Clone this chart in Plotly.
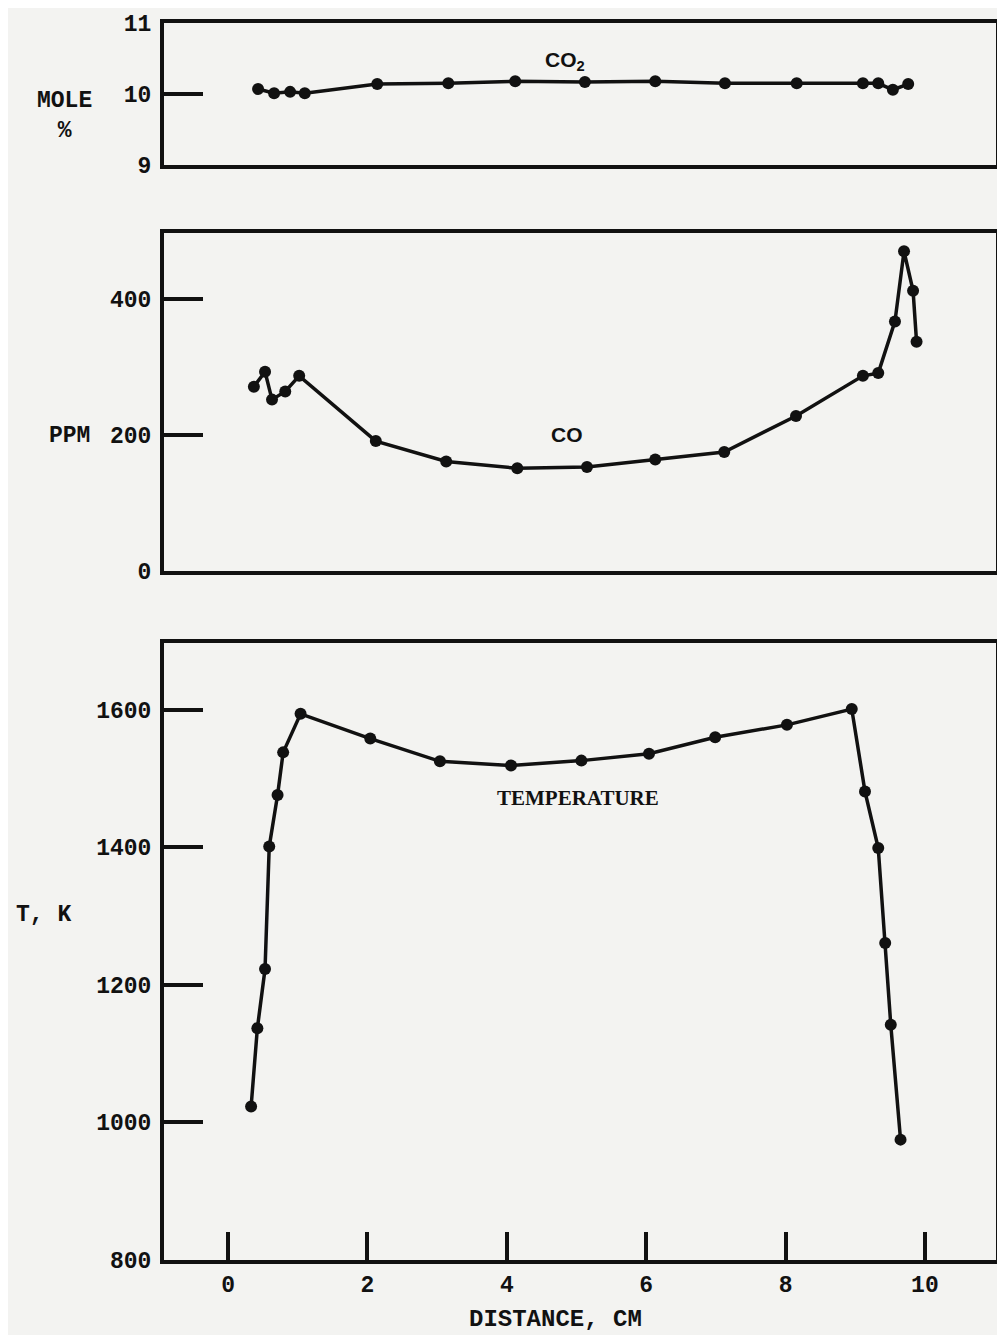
import plotly.graph_objects as go

# ---- data ----
co2_x = [0.43, 0.66, 0.89, 1.10, 2.14, 3.16, 4.12, 5.12, 6.13, 7.13, 8.16, 9.11, 9.33, 9.54, 9.76]
co2_y = [10.07, 10.01, 10.03, 10.01, 10.14, 10.15, 10.18, 10.17, 10.18, 10.15, 10.15, 10.15, 10.15, 10.06, 10.14]

co_x = [0.37, 0.53, 0.63, 0.82, 1.02, 2.12, 3.13, 4.15, 5.15, 6.13, 7.12, 8.15, 9.11, 9.33, 9.57, 9.70, 9.83, 9.88]
co_y = [271, 293, 252, 264, 287, 191, 161, 151, 153, 164, 175, 228, 287, 291, 367, 470, 412, 337]

t_x = [0.33, 0.42, 0.53, 0.59, 0.71, 0.79, 1.04, 2.04, 3.04, 4.06, 5.07, 6.04, 6.99, 8.02, 8.95, 9.14, 9.33, 9.43, 9.51, 9.65]
t_y = [1023, 1137, 1223, 1401, 1476, 1538, 1594, 1558, 1525, 1519, 1526, 1536, 1560, 1578, 1601, 1481, 1399, 1261, 1142, 975]

x_ticks = [0, 2, 4, 6, 8, 10]
co2_ticks = [9, 10, 11]
co_ticks = [0, 200, 400]
t_ticks = [800, 1000, 1200, 1400, 1600]

X_RANGE = [-0.92, 11.02]
BG = "#f3f3f1"
INK = "#111111"
MONO = dict(family="Liberation Mono", size=23, color=INK, weight="bold")

# page has an 8px body margin; figure sized so the page does not overflow
OFF = 8
W, H = 1005 - 2 * OFF, 1343 - 2 * OFF


def px_x(p):
    return (p - OFF) / W


def px_y(p):
    return 1 - (p - OFF) / H


fig = go.Figure()
line = dict(color=INK, width=3.5)
marker = dict(size=12, color=INK)
fig.add_trace(go.Scatter(x=co2_x, y=co2_y, xaxis="x", yaxis="y", mode="lines+markers",
                         line=line, marker=marker, showlegend=False, hoverinfo="x+y"))
fig.add_trace(go.Scatter(x=co_x, y=co_y, xaxis="x2", yaxis="y2", mode="lines+markers",
                         line=line, marker=marker, showlegend=False, hoverinfo="x+y"))
fig.add_trace(go.Scatter(x=t_x, y=t_y, xaxis="x3", yaxis="y3", mode="lines+markers",
                         line=line, marker=marker, showlegend=False, hoverinfo="x+y"))

frame = dict(showline=True, linecolor=INK, linewidth=4, mirror=True,
             showgrid=False, zeroline=False, automargin=False)
xdom = [px_x(164), px_x(996)]


def ydom(top_px, bot_px):
    return [px_y(bot_px), px_y(top_px)]


yax = dict(frame, ticks="inside", ticklen=39, tickwidth=4, tickcolor=INK,
           tickfont=MONO, ticklabelstandoff=4)

fig.update_layout(
    width=W, height=H,
    margin=dict(l=0, r=0, t=0, b=0, autoexpand=False),
    paper_bgcolor=BG, plot_bgcolor=BG,
    xaxis=dict(frame, domain=xdom, range=X_RANGE, anchor="y", showticklabels=False, ticks=""),
    xaxis2=dict(frame, domain=xdom, range=X_RANGE, anchor="y2", showticklabels=False, ticks=""),
    xaxis3=dict(frame, domain=xdom, range=X_RANGE, anchor="y3",
                tickvals=x_ticks, ticks="inside", ticklen=28, tickwidth=4, tickcolor=INK,
                tickfont=MONO, ticklabelstandoff=0),
    yaxis=dict(yax, domain=ydom(23, 165), range=[9, 11], tickvals=co2_ticks, anchor="x"),
    yaxis2=dict(yax, domain=ydom(233, 571), range=[0, 497], tickvals=co_ticks, anchor="x2"),
    yaxis3=dict(yax, domain=ydom(643, 1260), range=[800, 1697], tickvals=t_ticks, anchor="x3"),
)

lab = dict(family="Liberation Mono", size=23, color=INK, weight="bold")
fig.add_annotation(text="MOLE<br>%", xref="paper", yref="paper", x=px_x(64), y=px_y(116),
                   xanchor="center", yanchor="middle", showarrow=False, font=lab, align="center")
fig.add_annotation(text="PPM", xref="paper", yref="paper", x=px_x(69), y=px_y(436),
                   xanchor="center", yanchor="middle", showarrow=False, font=lab)
fig.add_annotation(text="T, K", xref="paper", yref="paper", x=px_x(43), y=px_y(915),
                   xanchor="center", yanchor="middle", showarrow=False, font=lab)
fig.add_annotation(text="DISTANCE, CM", xref="paper", yref="paper", x=px_x(555), y=px_y(1319),
                   xanchor="center", yanchor="middle", showarrow=False,
                   font=dict(family="Liberation Mono", size=24, color=INK, weight="bold"))

sans = dict(family="Liberation Sans", size=21, color=INK, weight="bold")
fig.add_annotation(text="CO<sub>2</sub>", xref="x", yref="y", x=4.84, y=10.47,
                   xanchor="center", yanchor="middle", showarrow=False, font=sans)
fig.add_annotation(text="CO", xref="x2", yref="y2", x=4.87, y=200,
                   xanchor="center", yanchor="middle", showarrow=False, font=sans)
fig.add_annotation(text="TEMPERATURE", xref="x3", yref="y3", x=5.02, y=1472,
                   xanchor="center", yanchor="middle", showarrow=False,
                   font=dict(family="Liberation Serif", size=21, color=INK, weight="bold"))

fig.write_html("out.html")
